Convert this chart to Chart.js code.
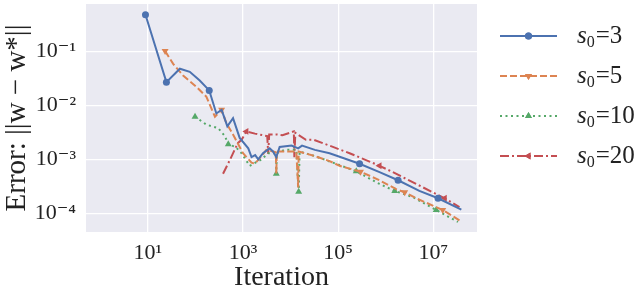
<!DOCTYPE html>
<html>
<head>
<meta charset="utf-8">
<script src="https://cdn.jsdelivr.net/npm/chart.js@4/dist/chart.umd.min.js"></script>
<style>
  body { margin: 0; background: #fff; }
  #wrap { width: 640px; height: 293px; }
</style>
</head>
<body>
<div id="wrap"><canvas id="chart" width="640" height="293"></canvas></div>
<script>
// values (log-log)
const labels = ['s₀=3', 's₀=5', 's₀=10', 's₀=20'];

const iterS3 = [8.9, 24.5, 47, 76, 123, 195, 275, 355, 468, 617, 851, 1290, 1510, 1800, 2090, 2630,
  3630, 4270, 5010, 5890, 10500, 14450, 17400, 32400, 66000, 282000, 741000, 1820000, 5100000, 12600000, 38900000];
const errS3 = [0.48, 0.027, 0.048, 0.042, 0.029, 0.019, 0.0071, 0.0083, 0.0041, 0.0058, 0.0025, 0.0016, 0.0011, 0.0012, 0.0010, 0.0013,
  0.0016, 0.0014, 0.0011, 0.0017, 0.0018, 0.0016, 0.0018, 0.0015, 0.0013, 0.00083, 0.00058, 0.00041, 0.00026, 0.00019, 0.000117];

const iterS5 = [23, 34, 55, 105, 170, 257, 355, 447, 617, 794, 1000, 1510, 1780, 2450, 3090, 4270, 4900, 5010, 5130,
  6900, 13200, 14450, 14800, 20000, 32400, 66000, 107000, 295000, 741000, 1660000, 2510000, 4370000, 15800000, 35500000];
const errS5 = [0.102, 0.059, 0.036, 0.022, 0.0145, 0.0062, 0.0083, 0.0047, 0.0029, 0.0019, 0.0013, 0.00087, 0.00083, 0.00115, 0.0015, 0.0014, 0.00135, 0.00054, 0.0014,
  0.0014, 0.0014, 0.0003, 0.0014, 0.0013, 0.00115, 0.00093, 0.00076, 0.00059, 0.00041, 0.00028, 0.000245, 0.00019, 0.000115, 0.000074];

const iterS10 = [98, 170, 300, 417, 490, 700, 933, 1380, 2450, 3390, 4900, 5010, 5130, 7590, 13200, 14800, 15500,
  20000, 32400, 77600, 240000, 741000, 1550000, 3720000, 11500000, 33000000];
const errS10 = [0.0062, 0.0044, 0.0038, 0.0027, 0.0019, 0.0017, 0.0013, 0.00076, 0.001, 0.0013, 0.0013, 0.00054, 0.0013, 0.0015, 0.0015, 0.00025, 0.0014,
  0.0013, 0.00115, 0.00087, 0.0006, 0.00035, 0.00026, 0.0002, 0.000115, 0.000069];

const iterS20 = [380, 537, 776, 933, 1175, 1780, 3230, 3390, 3550, 5010, 6760, 11700, 12000, 12600, 21000, 31000,
  77600, 174000, 741000, 1410000, 4370000, 17400000, 35500000];
const errS20 = [0.00054, 0.001, 0.002, 0.0023, 0.0033, 0.003, 0.0027, 0.00126, 0.0029, 0.0029, 0.0028, 0.0033, 0.0011, 0.0031, 0.0023, 0.0023,
  0.0017, 0.0013, 0.00076, 0.00058, 0.00035, 0.00019, 0.00013];

const xTicks = [10, 1000, 100000, 10000000];
const yTicks = [0.0001, 0.001, 0.01, 0.1];

// styling
const colors = ['#4C72B0', '#DD8452', '#55A868', '#C44E52'];
const dashes = [[], [7, 3], [2, 3.5], [9, 3, 2, 3]];
const pointStyles = ['circle', 'triangle', 'triangle', 'triangle'];
const pointRot = [0, 180, 0, 270];
const markAt = [[0, 1, 5, 25, 27, 29], [0, 6, 27, 30, 32], [0, 4, 11, 15, 20, 22, 24], [4, 18, 21]];
const serif = "'Liberation Serif', 'DejaVu Serif', serif";

const series = [[iterS3, errS3], [iterS5, errS5], [iterS10, errS10], [iterS20, errS20]];

const sup = { '0': '⁰', '1': '¹', '2': '²', '3': '³', '4': '⁴', '5': '⁵', '6': '⁶', '7': '⁷', '8': '⁸', '9': '⁹', '-': '⁻' };
function powLabel(v) {
  const e = Math.round(Math.log10(v));
  return '10' + String(e).split('').map(c => sup[c]).join('');
}

const datasets = series.map(([xs, ys], i) => ({
  label: labels[i],
  data: xs.map((x, j) => ({ x: x, y: ys[j] })),
  borderColor: colors[i],
  backgroundColor: colors[i],
  borderWidth: 2,
  borderDash: dashes[i],
  pointStyle: pointStyles[i],
  rotation: pointRot[i],
  pointRadius: c => markAt[i].includes(c.dataIndex) ? (i === 0 ? 3.5 : 4) : 0,
  pointBorderWidth: 0,
  tension: 0
}));

const plotBg = {
  id: 'plotBg',
  beforeDraw(chart) {
    const { ctx, chartArea: a } = chart;
    ctx.save();
    ctx.fillStyle = '#EAEAF2';
    ctx.fillRect(a.left, a.top, a.right - a.left, a.bottom - a.top);
    ctx.restore();
  }
};

const sideLegend = {
  id: 'sideLegend',
  afterDraw(chart) {
    const ctx = chart.ctx;
    chart.data.datasets.forEach((ds, i) => {
      const y = 36 + i * 40;
      ctx.save();
      ctx.strokeStyle = ds.borderColor;
      ctx.lineWidth = 2;
      ctx.setLineDash(ds.borderDash);
      ctx.beginPath();
      ctx.moveTo(500, y);
      ctx.lineTo(557, y);
      ctx.stroke();
      ctx.setLineDash([]);
      ctx.fillStyle = ds.borderColor;
      Chart.helpers.drawPoint(ctx, { pointStyle: ds.pointStyle, rotation: ds.rotation, radius: i === 0 ? 3.5 : 4, borderWidth: 0 }, 528.5, y);
      ctx.fill();
      // label: italic s, subscript 0, then the rest
      const [, rest] = ds.label.split('₀');
      ctx.fillStyle = '#222';
      ctx.textBaseline = 'alphabetic';
      let x = 577;
      ctx.font = 'italic 25px ' + serif;
      ctx.fillText('s', x, y + 7);
      x += ctx.measureText('s').width;
      ctx.font = '16px ' + serif;
      ctx.fillText('0', x, y + 11);
      x += ctx.measureText('0').width + 1;
      ctx.font = '25px ' + serif;
      ctx.fillText(rest, x, y + 7);
      ctx.restore();
    });
  }
};

new Chart(document.getElementById('chart'), {
  type: 'line',
  data: { datasets: datasets },
  options: {
    responsive: false,
    animation: false,
    devicePixelRatio: 1,
    layout: { padding: { top: 1, right: 163, left: 0, bottom: 0 } },
    plugins: { legend: { display: false }, tooltip: { enabled: false } },
    scales: {
      x: {
        type: 'logarithmic',
        min: 0.5,
        max: 83000000,
        afterBuildTicks: s => { s.ticks = xTicks.map(v => ({ value: v })); },
        afterFit: s => { s.height = 61; s.paddingLeft = 0; s.paddingRight = 0; },
        grid: { color: '#ffffff', lineWidth: 1.3, drawTicks: false },
        border: { display: false },
        ticks: {
          padding: 8,
          color: '#222',
          font: { family: serif, size: 22 },
          callback: v => powLabel(v),
          maxRotation: 0,
          autoSkip: false
        },
        title: {
          display: true,
          text: 'Iteration',
          color: '#222',
          font: { family: serif, size: 28, lineHeight: 1 },
          padding: { top: 0, bottom: 1 }
        }
      },
      y: {
        type: 'logarithmic',
        min: 0.000045,
        max: 0.76,
        afterBuildTicks: s => { s.ticks = yTicks.map(v => ({ value: v })); },
        afterFit: s => { s.width = 86; s.paddingTop = 0; s.paddingBottom = 0; },
        grid: { color: '#ffffff', lineWidth: 1.3, drawTicks: false },
        border: { display: false },
        ticks: {
          padding: 10,
          color: '#222',
          font: { family: serif, size: 22 },
          callback: v => powLabel(v),
          autoSkip: false
        },
        title: {
          display: true,
          text: 'Error: ||w − w*||',
          color: '#222',
          font: { family: serif, size: 29, lineHeight: 1.2 },
          padding: { top: 0, bottom: 0 }
        }
      }
    }
  },
  plugins: [plotBg, sideLegend]
});
</script>
</body>
</html>
